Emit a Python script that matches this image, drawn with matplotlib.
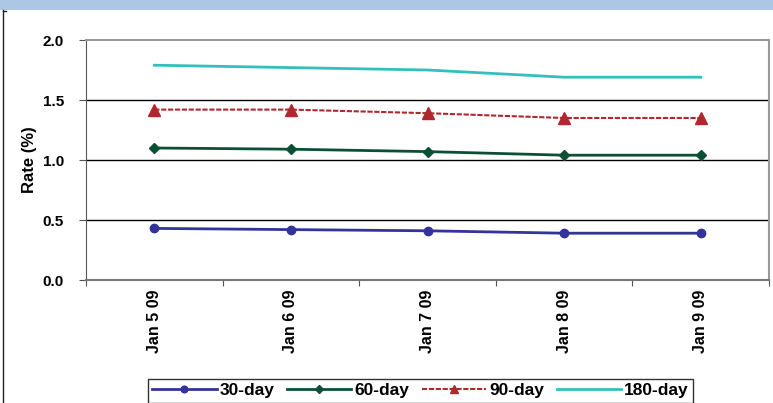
import matplotlib.pyplot as plt
import matplotlib.patches as patches
from matplotlib.lines import Line2D

# data
dates = ['Jan 5 09', 'Jan 6 09', 'Jan 7 09', 'Jan 8 09', 'Jan 9 09']
day30 = [0.43, 0.42, 0.41, 0.39, 0.39]
day60 = [1.10, 1.09, 1.07, 1.04, 1.04]
day90 = [1.42, 1.42, 1.39, 1.35, 1.35]
day180 = [1.79, 1.77, 1.75, 1.69, 1.69]
yticks = [0.0, 0.5, 1.0, 1.5, 2.0]

plt.rcParams['font.family'] = ['Liberation Sans', 'DejaVu Sans']
plt.rcParams['font.weight'] = 'bold'

W, H = 773, 403
fig = plt.figure(figsize=(W/100, H/100), dpi=100)

# blue band at top and outer frame
fig.patches.append(patches.Rectangle((0, 1-10/H), 1, 10/H, transform=fig.transFigure,
                                     facecolor='#adc6e5', edgecolor='none', zorder=0))
fig.lines.append(Line2D([3/W, 3/W], [0, 1-10/H], transform=fig.transFigure, color='#222222', lw=1))
fig.lines.append(Line2D([3/W, 6/W], [1-10.5/H, 1-10.5/H], transform=fig.transFigure, color='#222222', lw=1))

ax = fig.add_axes([86/W, 1-280/H, (769-86)/W, 240/H])
x = list(range(len(dates)))

ax.plot(x, day30, color='#333399', lw=2, marker='o', ms=6, label='30-day')
ax.plot(x, day60, color='#0b5035', lw=2, marker='D', ms=5, label='60-day')
ax.plot(x, day90, color='#b0282f', lw=1.5, ls=(0, (2.5, 0.8)), marker='^', ms=8, label='90-day')
ax.plot(x, day180, color='#33c0bc', lw=2, label='180-day')

ax.set_xlim(-0.5, len(dates)-0.5)
ax.set_ylim(0, 2.0)
ax.set_yticks(yticks)
ax.set_yticklabels(['%.1f' % v for v in yticks], fontsize=11, fontweight='bold')
for v in yticks[1:-1]:
    ax.axhline(v, color='black', lw=1, zorder=0)

ax.set_xticks([i - 0.5 for i in range(len(dates)+1)])
ax.set_xticklabels([])
ax.set_xticks(x, minor=True)
ax.set_xticklabels(dates, minor=True, rotation=90, fontsize=11.5, fontweight='bold')
ax.tick_params(axis='x', which='minor', length=0, pad=7)
ax.tick_params(axis='x', which='major', length=4, direction='out', color='#555555')
ax.tick_params(axis='y', length=5, direction='out', color='#555555', pad=11)

for s in ['top', 'right']:
    ax.spines[s].set_color('#999999')
    ax.spines[s].set_linewidth(1.5)
ax.spines['left'].set_color('#555555')
ax.spines['bottom'].set_color('#777777')
ax.spines['bottom'].set_linewidth(1.5)

ax.set_ylabel('Rate (%)', fontsize=12, fontweight='bold', labelpad=4)

leg = fig.legend(loc='upper left', bbox_to_anchor=(148/W, 1-379/H), ncol=4,
                 frameon=True, fancybox=False, edgecolor='black', handlelength=3.7,
                 columnspacing=0.7, handletextpad=0.2, borderpad=0.25, borderaxespad=0,
                 markerscale=0.8, prop={'size': 12.5, 'weight': 'bold'})
leg.get_frame().set_linewidth(1)

fig.savefig('out.png', dpi=100)
